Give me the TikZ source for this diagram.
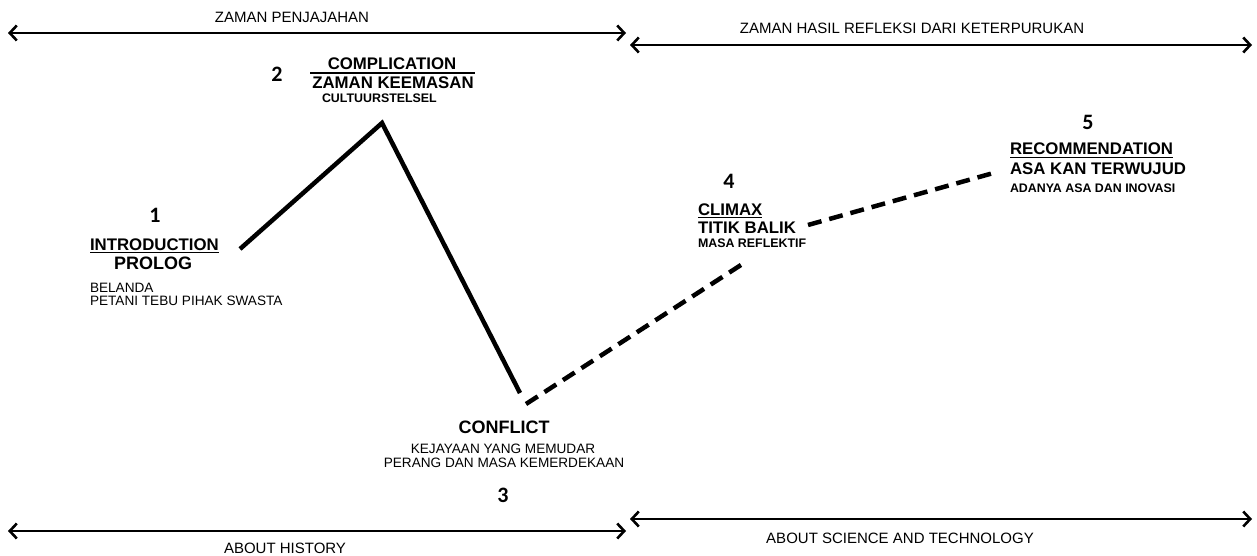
\documentclass[tikz,border=0pt]{standalone}
\usepackage{fontspec}
\setmainfont{Liberation Sans}
\newfontfamily\numfont{Carlito}
\usetikzlibrary{arrows.meta}
\tikzset{
  txt/.style={inner sep=0pt, outer sep=0pt},
  head/.style={txt, font=\fontsize{16.8}{18}\selectfont\bfseries},
  sub/.style={txt, font=\fontsize{12.4}{14}\selectfont\bfseries},
  small/.style={txt, font=\fontsize{13.6}{15}\selectfont},
  numlbl/.style={txt, font=\fontsize{22}{24}\selectfont\numfont\bfseries},
  eralbl/.style={txt, font=\fontsize{15}{17}\selectfont},
  era/.style={line width=2.4pt, {Straight Barb[length=7pt,width=15pt,line width=2.6pt]}-{Straight Barb[length=7pt,width=15pt,line width=2.6pt]}},
  plot/.style={line width=4.5pt, line cap=butt},
  dashplot/.style={plot, dash pattern=on 14pt off 8pt},
  uline/.style={line width=1.4pt}
}
\begin{document}
\begin{tikzpicture}[x=1pt,y=-1pt]
\useasboundingbox (0,0) rectangle (1257,556);
% era arrows
\coordinate (tl1) at (8,33); \coordinate (tl2) at (626,33);
\coordinate (tr1) at (630,45); \coordinate (tr2) at (1252,45);
\coordinate (bl1) at (8,531); \coordinate (bl2) at (626,531);
\coordinate (br1) at (630,519); \coordinate (br2) at (1252,519);
\draw[era] (tl1) -- (tl2);
\draw[era] (tr1) -- (tr2);
\draw[era] (bl1) -- (bl2);
\draw[era] (br1) -- (br2);
\node[eralbl, anchor=base] (e1) at (292,23) {ZAMAN PENJAJAHAN};
\node[eralbl, anchor=base] (e2) at (912,34) {ZAMAN HASIL REFLEKSI DARI KETERPURUKAN};
\node[eralbl, anchor=base] (e3) at (285,553) {ABOUT HISTORY};
\node[eralbl, anchor=base] (e4) at (900,543) {ABOUT SCIENCE AND TECHNOLOGY};
% plot line
\coordinate (p1) at (240,249);
\coordinate (p2) at (382,123);
\coordinate (p3) at (520,393);
\coordinate (p4) at (526,404);
\coordinate (p5) at (744,263);
\coordinate (p6) at (808,225);
\coordinate (p7) at (997,172);
\draw[plot, line join=miter] (p1) -- (p2) -- (p3);
\draw[dashplot] (p4) -- (p5);
\draw[dashplot] (p6) -- (p7);
% 1
\node[numlbl, anchor=base] (n1) at (155,222) {1};
\node[head, anchor=base west] (intro) at (90,250) {INTRODUCTION};
\draw[uline] (intro.base west) ++(0,2.5) coordinate (iu1) -- (intro.base east |- iu1);
\node[head, anchor=base, font=\fontsize{18}{20}\selectfont\bfseries] (prolog) at (153,269) {PROLOG};
\node[small, anchor=base west] (bel) at (90,292) {BELANDA};
\node[small, anchor=base west] (pet) at (90,305) {PETANI TEBU PIHAK SWASTA};
% 2
\node[numlbl, anchor=base] (n2) at (277,82) {2};
\node[head, anchor=base] (compl) at (392,70) {COMPLICATION};
\coordinate (cu1) at (310,73); \coordinate (cu2) at (475,73);
\draw[uline] (cu1) -- (cu2);
\node[head, anchor=base] (zk) at (393,88.5) {ZAMAN KEEMASAN};
\node[sub, anchor=base west] (cult) at (322,103) {CULTUURSTELSEL};
% 3
\node[head, font=\fontsize{18}{20}\selectfont\bfseries, anchor=base] (confl) at (504,433) {CONFLICT};
\node[small, anchor=base] (kej) at (503,453) {KEJAYAAN YANG MEMUDAR};
\node[small, anchor=base] (per) at (504,467) {PERANG DAN MASA KEMERDEKAAN};
\node[numlbl, anchor=base] (n3) at (503,502) {3};
% 4
\node[numlbl, anchor=base] (n4) at (729,189) {4};
\node[head, anchor=base west] (clim) at (698,215) {CLIMAX};
\draw[uline] (clim.base west) ++(0,2.5) coordinate (clu) -- (clim.base east |- clu);
\node[head, anchor=base west] (titik) at (698,233) {TITIK BALIK};
\node[sub, anchor=base west] (masa) at (698,247.5) {MASA REFLEKTIF};
% 5
\node[numlbl, anchor=base] (n5) at (1088,130) {5};
\node[head, anchor=base west] (rec) at (1010,155) {RECOMMENDATION};
\draw[uline] (rec.base west) ++(0,2.5) coordinate (ru) -- (rec.base east |- ru);
\node[head, anchor=base west] (asa) at (1010,175) {ASA KAN TERWUJUD};
\node[sub, anchor=base west] (ada) at (1010,193) {ADANYA ASA DAN INOVASI};
\end{tikzpicture}
\end{document}
